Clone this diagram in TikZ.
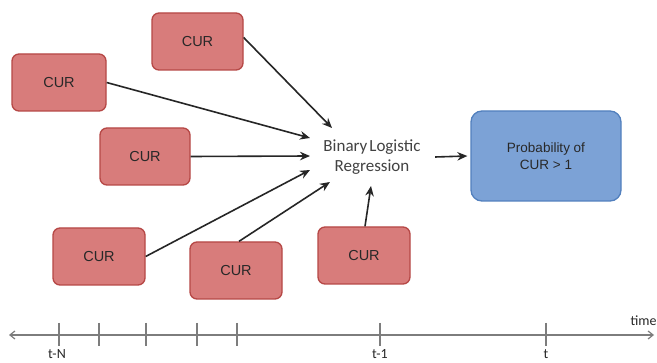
\documentclass[tikz,border=0pt]{standalone}
\usepackage{fontspec}
\setmainfont{Liberation Sans}
\newfontfamily\calib{Carlito}
\usetikzlibrary{arrows.meta}
\definecolor{curfill}{RGB}{216,124,123}
\definecolor{curline}{RGB}{182,72,70}
\definecolor{probfill}{RGB}{124,162,214}
\definecolor{probline}{RGB}{82,128,190}
\definecolor{axisgray}{RGB}{125,125,125}
\definecolor{txt}{RGB}{40,40,40}
\tikzset{
  curbox/.style={draw=curline, fill=curfill, line width=1.3pt, rounded corners=7pt,
    minimum width=91pt, minimum height=57pt, inner sep=0pt,
    text=txt, font=\fontsize{14.5}{16}\selectfont},
  probbox/.style={draw=probline, fill=probfill, line width=1.3pt, rounded corners=11pt,
    minimum width=150pt, minimum height=90pt, inner sep=0pt,
    text=txt, font=\fontsize{13.5}{16.5}\selectfont, align=center},
  feed/.style={-{Stealth[length=10pt,width=8.5pt]}, line width=1.6pt, black!85},
  tick/.style={axisgray, line width=1.2pt},
  ticklabel/.style={font=\calib\fontsize{14}{16}\selectfont, text=txt, anchor=base}
}
\begin{document}
\begin{tikzpicture}[x=1pt,y=-1pt]
\useasboundingbox[fill=white] (0,0) rectangle (657,363);
% input boxes
\node[curbox] (c1) at (197.5,41.5) {CUR};
\node[curbox, minimum width=94pt] (c2) at (59,82.5) {CUR};
\node[curbox, minimum width=90pt] (c3) at (145,156.5) {CUR};
\node[curbox, minimum width=92pt] (c4) at (99,256.5) {CUR};
\node[curbox, minimum width=92pt] (c5) at (236,270.5) {CUR};
\node[curbox, minimum width=92pt] (c6) at (364,255.5) {CUR};
% model
\node[font=\calib\fontsize{17}{20}\selectfont, text=black!74, align=center] (blr) at (372,157)
  {Binary\hspace{2pt}Logistic\\Regression};
\coordinate (t1) at (332,128);
\coordinate (t2) at (310,138);
\coordinate (t3) at (310,156);
\coordinate (t4) at (310,170);
\coordinate (t5) at (330,182);
\coordinate (t6) at (371,186);
% output box
\node[probbox] (prob) at (546,156) {Probability of\\CUR > 1};
% connectors
\draw[feed] ([yshift=4pt]c1.east) -- (t1);
\draw[feed] (c2.east) -- (t2);
\draw[feed] (c3.east) -- (t3);
\draw[feed] (c4.east) -- (t4);
\draw[feed] ([xshift=3pt]c5.north) -- (t5);
\draw[feed] ([xshift=1pt]c6.north) -- (t6);
\draw[feed] ([xshift=11pt]blr.east) -- ([xshift=-3pt]prob.west);
% time axis
\coordinate (ax0) at (9,335);
\coordinate (ax1) at (654,335);
\draw[axisgray, line width=1.2pt, {Straight Barb[length=5pt,width=8pt]}-{Straight Barb[length=5pt,width=8pt]}] (ax0) -- (ax1);
\foreach \x in {59,99,146,197,237,380,546}
  \draw[tick] (\x,323) -- (\x,346);
\node[ticklabel] (ltn) at (57,359) {t-N};
\node[ticklabel] (lt1) at (380,359) {t-1};
\node[ticklabel] (lt) at (546,359) {t};
\node[ticklabel, anchor=base west] (ltime) at (627,326) {time};
\end{tikzpicture}
\end{document}
